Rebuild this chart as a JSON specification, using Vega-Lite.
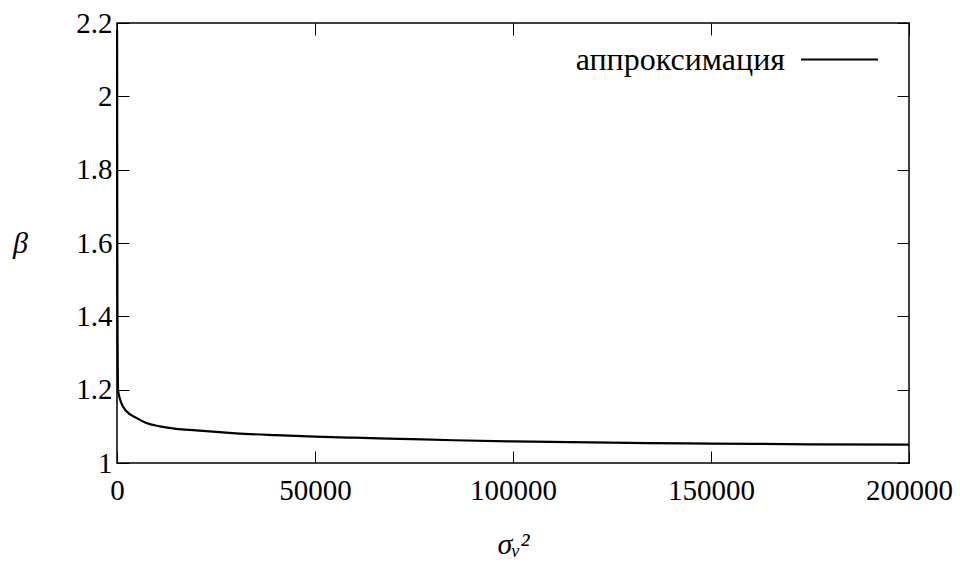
{
  "$schema": "https://vega.github.io/schema/vega-lite/v6.json",
  "width": 792,
  "height": 440,
  "autosize": {"type": "none"},
  "padding": {"left": 117, "top": 23, "right": 51, "bottom": 99},
  "background": "white",
  "config": {
    "view": {"stroke": "black", "strokeWidth": 1.5},
    "font": "Liberation Serif",
    "axis": {"grid": false, "domain": false, "tickColor": "black", "tickWidth": 1, "labelColor": "black", "titleColor": "black", "labelFont": "Liberation Serif", "titleFont": "Liberation Serif", "labelFontSize": 29, "titleFontSize": 30, "titleFontWeight": "normal"}
  },
  "data": {"values": [
    {"x": 20, "beta": 2.18},
    {"x": 40, "beta": 1.95},
    {"x": 60, "beta": 1.72},
    {"x": 100, "beta": 1.45},
    {"x": 150, "beta": 1.33},
    {"x": 200, "beta": 1.25},
    {"x": 250, "beta": 1.2},
    {"x": 500, "beta": 1.185},
    {"x": 1100, "beta": 1.163},
    {"x": 2400, "beta": 1.141},
    {"x": 4900, "beta": 1.123},
    {"x": 7400, "beta": 1.109},
    {"x": 10800, "beta": 1.1},
    {"x": 15000, "beta": 1.093},
    {"x": 20000, "beta": 1.089},
    {"x": 23400, "beta": 1.086},
    {"x": 30000, "beta": 1.081},
    {"x": 40000, "beta": 1.076},
    {"x": 50000, "beta": 1.072},
    {"x": 60000, "beta": 1.069},
    {"x": 71400, "beta": 1.066},
    {"x": 85000, "beta": 1.062},
    {"x": 100000, "beta": 1.059},
    {"x": 120000, "beta": 1.056},
    {"x": 134000, "beta": 1.054},
    {"x": 150000, "beta": 1.053},
    {"x": 175000, "beta": 1.051},
    {"x": 200000, "beta": 1.05}
  ]},
  "layer": [
    {
      "mark": {"type": "line", "strokeWidth": 2.2, "interpolate": "monotone"},
      "encoding": {
        "x": {"field": "x", "type": "quantitative", "scale": {"domain": [0, 200000], "nice": false},
          "axis": {"orient": "bottom", "values": [0, 50000, 100000, 150000, 200000], "format": "d", "tickSize": -12, "labelPadding": 25, "labelFlush": false,
            "title": "σᵥ²", "titleFontStyle": "italic", "titleY": 90, "titleBaseline": "alphabetic"}},
        "y": {"field": "beta", "type": "quantitative", "scale": {"domain": [1, 2.2], "nice": false, "zero": false},
          "axis": {"orient": "left", "values": [1, 1.2, 1.4, 1.6, 1.8, 2, 2.2], "format": "~g", "tickSize": -12, "labelPadding": 17, "labelFlush": false,
            "title": "β", "titleFontStyle": "italic", "titleAngle": 0, "titleX": -97, "titleY": 220, "titleAlign": "center", "titleBaseline": "middle"}},
        "color": {"datum": "аппроксимация", "type": "nominal", "scale": {"range": ["black"]},
          "legend": {"title": null, "orient": "none", "legendX": 683, "legendY": -3, "padding": 0,
            "symbolType": "stroke", "symbolSize": 5929, "symbolStrokeWidth": 2, "symbolStrokeColor": "black",
            "labelFont": "Liberation Serif", "labelFontSize": 32, "labelColor": "black", "labelAlign": "right", "labelOffset": -94, "labelLimit": 0}}
      }
    },
    {
      "mark": {"type": "point", "opacity": 0},
      "encoding": {
        "x": {"field": "x", "type": "quantitative",
          "axis": {"orient": "top", "values": [0, 50000, 100000, 150000, 200000], "tickSize": -12, "labels": false, "title": null}},
        "y": {"field": "beta", "type": "quantitative",
          "axis": {"orient": "right", "values": [1, 1.2, 1.4, 1.6, 1.8, 2, 2.2], "tickSize": -12, "labels": false, "title": null}}
      }
    }
  ],
  "resolve": {"axis": {"x": "independent", "y": "independent"}}
}
